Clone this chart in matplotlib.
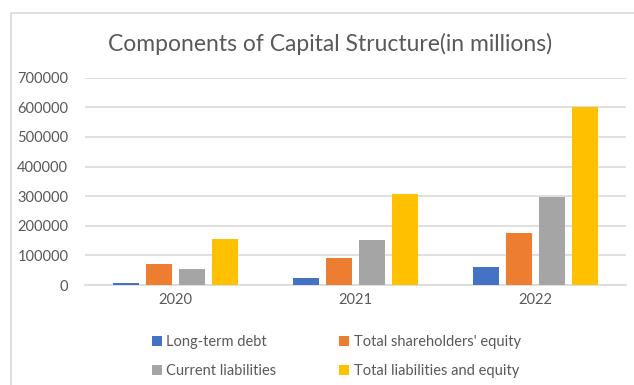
import matplotlib.pyplot as plt
from matplotlib.patches import Rectangle
from matplotlib.ticker import FuncFormatter

# Data
years = ['2020', '2021', '2022']
long_term_debt = [8000, 22000, 60000]
shareholders_equity = [71000, 92000, 176000]
current_liabilities = [55000, 151000, 297000]
total_liab_equity = [155000, 307000, 600000]

series = [
    ('Long-term debt', long_term_debt, '#4472C4'),
    ("Total shareholders' equity", shareholders_equity, '#ED7D31'),
    ('Current liabilities', current_liabilities, '#A5A5A5'),
    ('Total liabilities and equity', total_liab_equity, '#FFC000'),
]

plt.rcParams['font.family'] = ['Lato', 'DejaVu Sans']
text_grey = '#595959'

fig = plt.figure(figsize=(6.34, 3.85), dpi=100)
ax = fig.add_axes([0.134, 0.2597, 0.853, 0.5385])

# light frame around the chart area (only left and top edges visible)
fig.patches.append(Rectangle((11 / 634, -0.1), 1.2, 1 - 13 / 385 + 0.1,
                             transform=fig.transFigure, fill=False,
                             edgecolor='#d9d9d9', linewidth=1.2))

x = list(range(len(years)))
step = 0.183
width = 0.144
handles = []
for i, (name, vals, color) in enumerate(series):
    offs = (i - 1.5) * step
    b = ax.bar([xi + offs for xi in x], vals, width=width, color=color,
               label=name, zorder=3)
    handles.append(b)

ax.set_xlim(-0.5, 2.5)
ax.set_ylim(0, 700000)
ax.set_yticks(range(0, 700001, 100000))
ax.yaxis.set_major_formatter(FuncFormatter(lambda v, p: '%d' % v))
ax.set_xticks(x)
ax.set_xticklabels(years)
ax.tick_params(axis='both', length=0, colors=text_grey)
ax.tick_params(axis='y', pad=12, labelsize=10.5)
ax.tick_params(axis='x', pad=6, labelsize=10.5)

ax.grid(axis='y', color='#d9d9d9', linewidth=1.2, zorder=0)
for s in ['top', 'right', 'left']:
    ax.spines[s].set_visible(False)
ax.spines['bottom'].set_color('#d9d9d9')
ax.spines['bottom'].set_linewidth(1.2)

fig.text(0.52, 0.885, 'Components of Capital Structure(in millions)',
         ha='center', va='center', fontsize=16.5, color=text_grey)

# legend filled row by row like the original
order = [0, 2, 1, 3]
fig.legend(handles=[handles[k] for k in order], loc='center',
           bbox_to_anchor=(0.53, 0.074),
           ncol=2, frameon=False, fontsize=10.5, labelcolor=text_grey,
           handlelength=0.7, handleheight=0.7, handletextpad=0.3,
           columnspacing=4.3, labelspacing=1.0)

fig.savefig('out.png', dpi=100)
